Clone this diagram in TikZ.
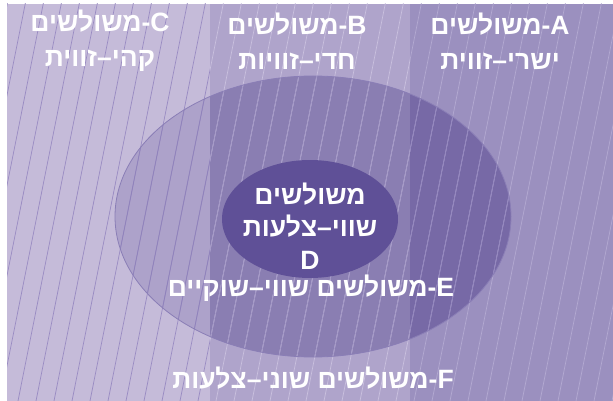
\documentclass[tikz,border=0pt]{standalone}
\usepackage{fontspec}
\setmainfont{Liberation Sans}
\newfontfamily\hebfont[Script=Hebrew]{Liberation Sans}
\TeXXeTstate=1
\usepackage{tikz}
\usetikzlibrary{positioning}
\definecolor{stripC}{HTML}{C5BBD9}
\definecolor{stripB}{HTML}{AFA4CB}
\definecolor{stripA}{HTML}{9B90BF}
\definecolor{ellC}{HTML}{ADA2CA}
\definecolor{ellB}{HTML}{8A7EB2}
\definecolor{ellA}{HTML}{7769A6}
\definecolor{lineC}{HTML}{998BC2}
\definecolor{lineB}{HTML}{C9C0DE}
\definecolor{lineA}{HTML}{B3A9D1}
\definecolor{lineCin}{HTML}{8F82BB}
\definecolor{lineBin}{HTML}{A296C6}
\definecolor{lineAin}{HTML}{9285BE}
\definecolor{innerpurple}{HTML}{5F5097}
\definecolor{rimpurple}{HTML}{8A7EB6}
\tikzset{
  lbl/.style={text=white, align=center, inner sep=0pt, font=\bfseries\fontsize{26.5}{35}\selectfont},
  midlbl/.style={lbl, font=\bfseries\fontsize{26.5}{32.5}\selectfont},
  hatch/.style={line width=0.7pt},
}
\newcommand{\hebtxt}[1]{{\hebfont\beginR #1\endR}}

\begin{document}
\begin{tikzpicture}[x=1pt,y=-1pt]
    \useasboundingbox (0,0) rectangle (613,401);
    % three strips
    \fill[stripC] (7,4) rectangle (210,401);
    \fill[stripB] (210,4) rectangle (410,401);
    \fill[stripA] (410,4) rectangle (613,401);
    % strips seen through the big ellipse
    \begin{scope}
      \clip (313,216.5) ellipse [x radius=198, y radius=140.5];
      \fill[ellC] (7,4) rectangle (210,401);
      \fill[ellB] (210,4) rectangle (410,401);
      \fill[ellA] (410,4) rectangle (613,401);
    \end{scope}
    % hatching
    \foreach \xa/\xb/\co/\ci in {7/210/lineC/lineCin,210/410/lineB/lineBin,410/613/lineA/lineAin}{
      \begin{scope}
        \clip (\xa,4) rectangle (\xb,401);
        \foreach \k in {-6,...,36}{\draw[hatch, \co] (\k*18,401) -- ++(80,-401);}
        \clip (313,216.5) ellipse [x radius=198, y radius=140.5];
        \foreach \k in {-6,...,36}{\draw[hatch, \ci] (\k*18,401) -- ++(80,-401);}
      \end{scope}
    }
    \draw[rimpurple, line width=0.8pt] (313,216.5) ellipse [x radius=198, y radius=140.5];
    \fill[innerpurple] (310,219) ellipse [x radius=88, y radius=59];
    % labels
    \node[lbl] (lblC) at (100,41) {\hebtxt{משולשים}-C\\\hebtxt{קהי–זווית}};
    \node[lbl] (lblB) at (297,41) {\hebtxt{משולשים}-B\\\hebtxt{חדי–זוויות}};
    \node[lbl] (lblA) at (500,41) {\hebtxt{משולשים}-A\\\hebtxt{ישרי–זווית}};
    \node[midlbl] (lblD) at (310,226) {\hebtxt{משולשים}\\\hebtxt{שווי–צלעות}\\D};
    \node[lbl] (lblE) at (311,288) {\hebtxt{משולשים שווי–שוקיים}-E};
    \node[lbl] (lblF) at (313,378) {\hebtxt{משולשים שוני–צלעות}-F};
\end{tikzpicture}
\end{document}
